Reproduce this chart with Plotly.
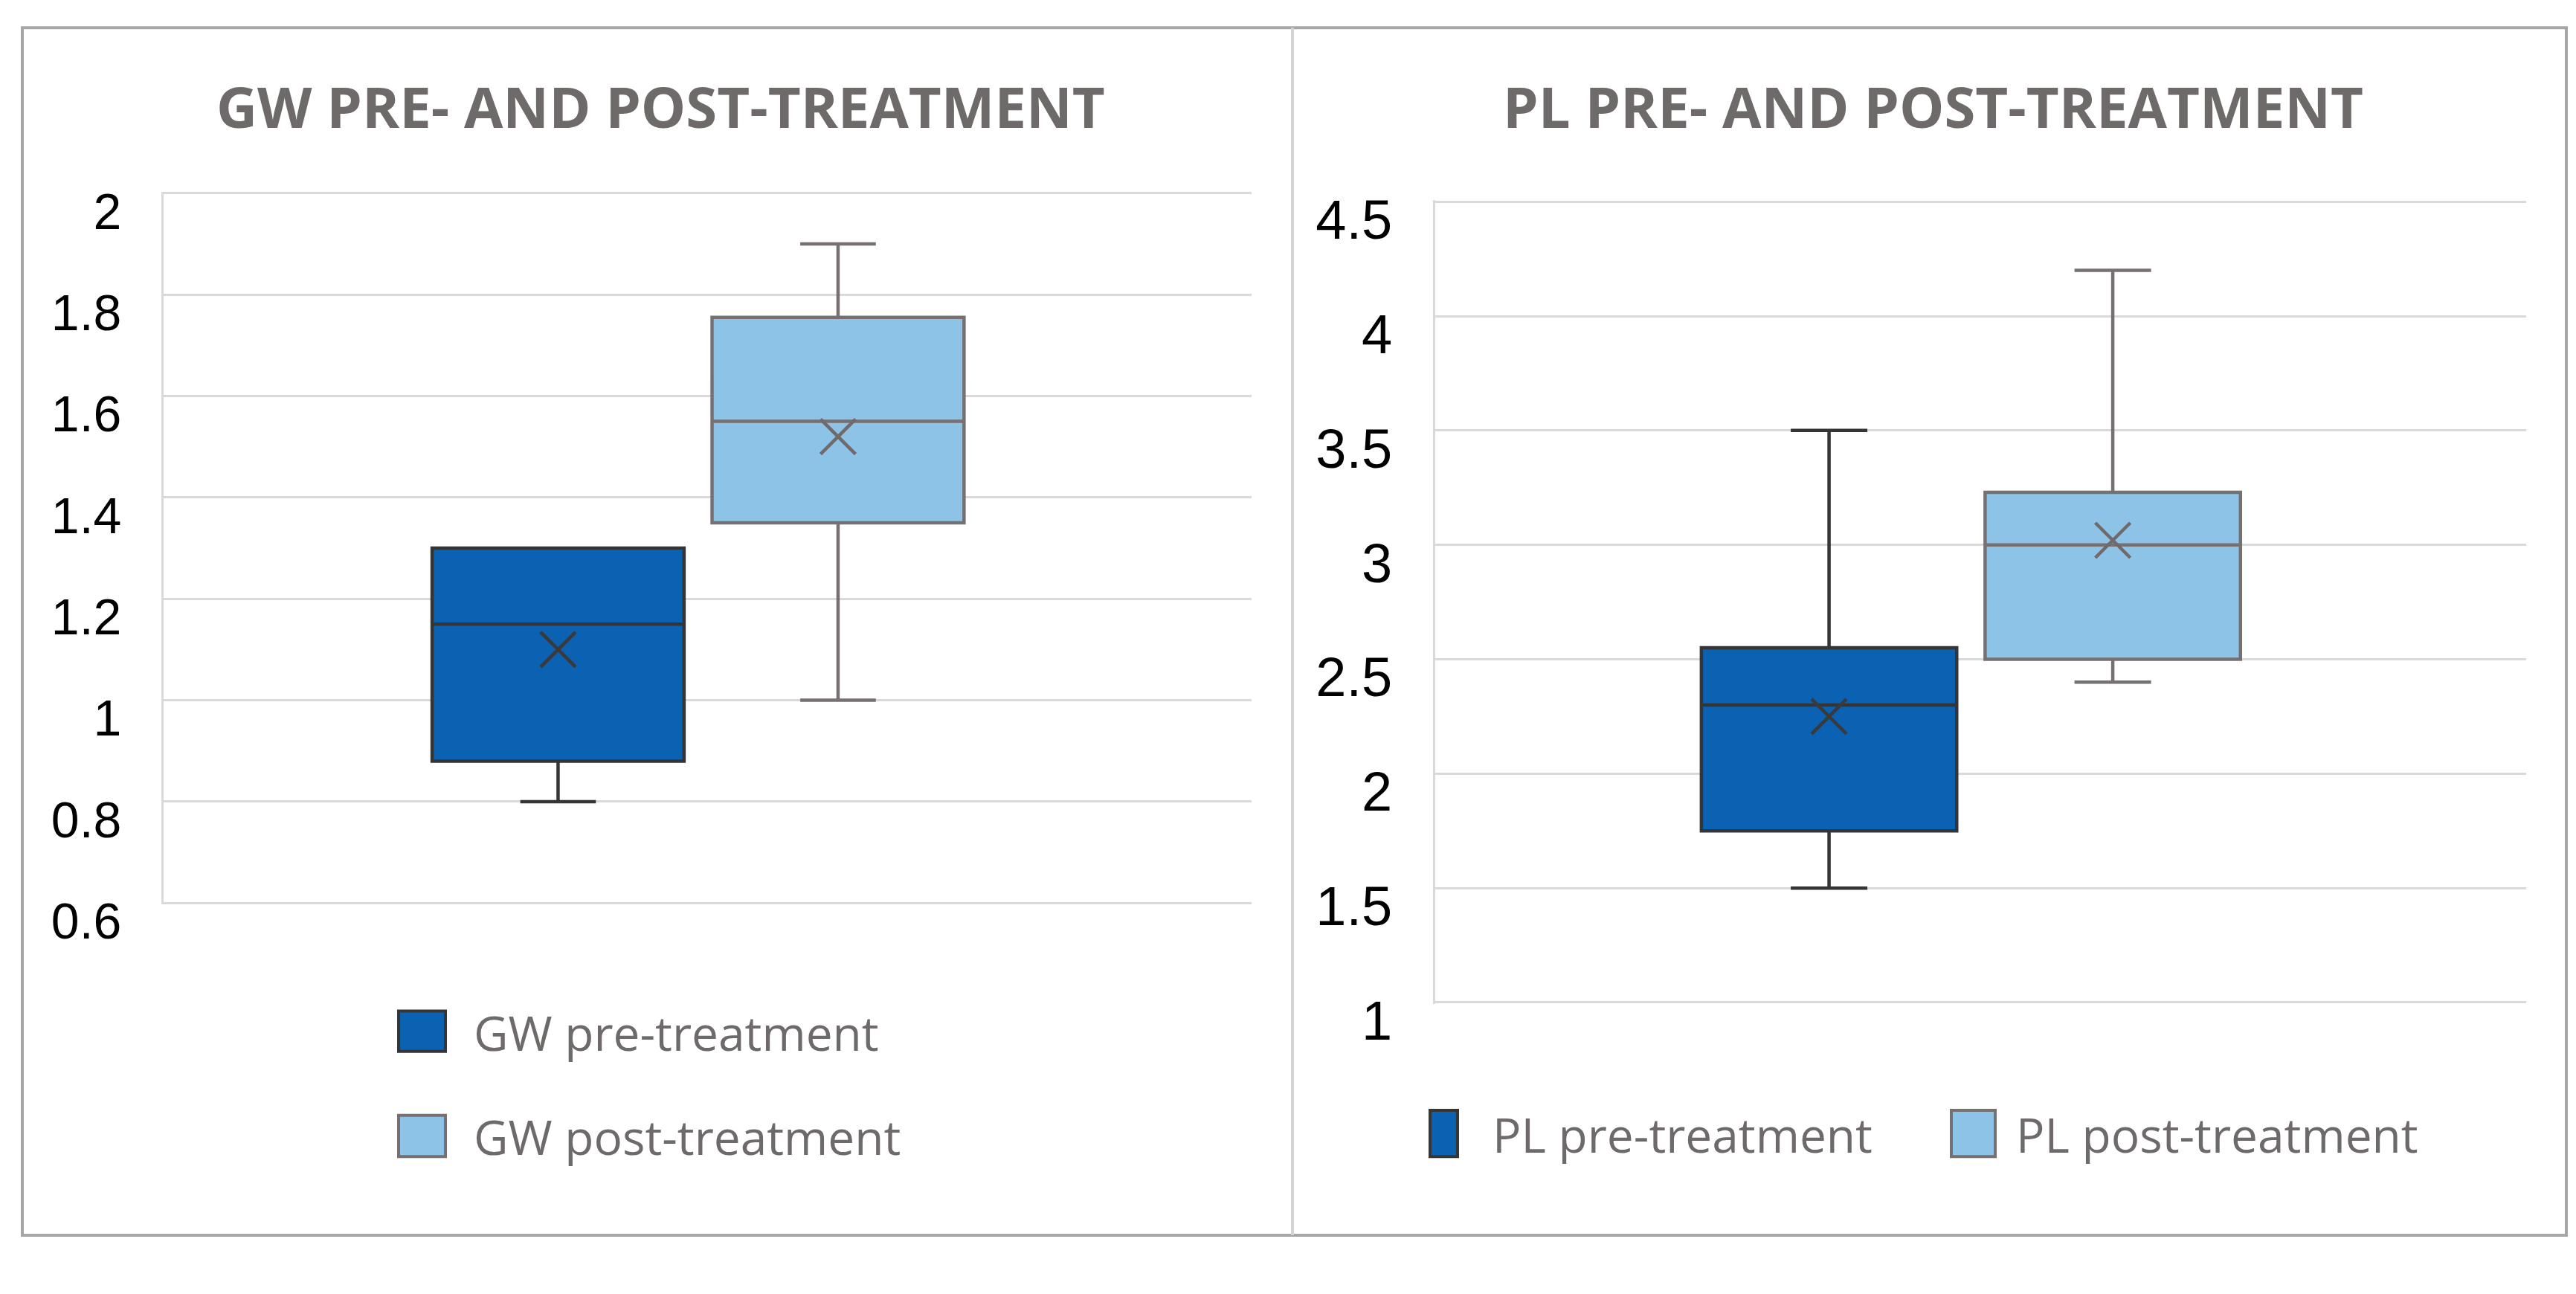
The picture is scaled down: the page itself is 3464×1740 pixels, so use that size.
import plotly.graph_objects as go

# ---------------- data ----------------
gw_categories = ["GW pre-treatment", "GW post-treatment"]
gw_lower = [0.80, 1.00]
gw_q1 = [0.88, 1.35]
gw_median = [1.15, 1.55]
gw_q3 = [1.30, 1.755]
gw_upper = [1.30, 1.90]
gw_mean = [1.10, 1.52]

pl_categories = ["PL pre-treatment", "PL post-treatment"]
pl_lower = [1.50, 2.40]
pl_q1 = [1.75, 2.50]
pl_median = [2.30, 3.00]
pl_q3 = [2.55, 3.23]
pl_upper = [3.50, 4.20]
pl_mean = [2.25, 3.02]

gw_ticks = [0.6, 0.8, 1, 1.2, 1.4, 1.6, 1.8, 2]
gw_ticktext = ["0.6", "0.8", "1", "1.2", "1.4", "1.6", "1.8", "2"]
pl_ticks = [1, 1.5, 2, 2.5, 3, 3.5, 4, 4.5]
pl_ticktext = ["1", "1.5", "2", "2.5", "3", "3.5", "4", "4.5"]

gw_title = "GW PRE- AND POST-TREATMENT"
pl_title = "PL PRE- AND POST-TREATMENT"

# ---------------- style ----------------
W, H = 3464, 1740
FILLS = ["#0B62B2", "#8EC3E8"]
LINES = ["#353535", "#767070"]
MEAN_COLORS = ["#3A3A3A", "#706A6A"]
GRID = "#D9D9D9"
TEXT_GRAY = "#6E6A6A"


def px(x):
    return x / W


def py(y):
    return 1 - y / H


fig = go.Figure()


def add_panel(cats, lower, q1, med, q3, upper, mean, xa, ya):
    for i, cat in enumerate(cats):
        fig.add_trace(go.Box(
            x=[cat], q1=[q1[i]], median=[med[i]], q3=[q3[i]],
            lowerfence=[lower[i]], upperfence=[upper[i]],
            name=cat, fillcolor=FILLS[i],
            line=dict(color=LINES[i], width=4.5),
            whiskerwidth=0.3, width=0.9, boxpoints=False,
            xaxis=xa, yaxis=ya, showlegend=False,
        ))
    fig.add_trace(go.Scatter(
        x=cats, y=mean, mode="markers",
        marker=dict(symbol="x-thin", size=47, color=MEAN_COLORS,
                    line=dict(width=4.5, color=MEAN_COLORS)),
        xaxis=xa, yaxis=ya, showlegend=False, hoverinfo="y",
    ))


add_panel(gw_categories, gw_lower, gw_q1, gw_median, gw_q3, gw_upper, gw_mean, "x", "y")
add_panel(pl_categories, pl_lower, pl_q1, pl_median, pl_q3, pl_upper, pl_mean, "x2", "y2")

xcommon = dict(type="category", showticklabels=False, showgrid=False,
               zeroline=False, showline=False, ticks="", fixedrange=True)
ycommon = dict(showgrid=True, gridcolor=GRID, gridwidth=3, zeroline=False,
               showline=True, linecolor=GRID, linewidth=3, ticks="",
               ticklabelstandoff=40, ticklabelshift=24, fixedrange=True)

fig.update_layout(
    width=W, height=H,
    margin=dict(l=0, r=0, t=0, b=0),
    paper_bgcolor="white", plot_bgcolor="white",
    showlegend=False,
    xaxis=dict(domain=[px(212), px(1675)], range=[-1.409, 2.477],
               categoryorder="array", categoryarray=gw_categories, **xcommon),
    yaxis=dict(domain=[py(1250.1), py(245.9)], range=[0.597, 2.003],
               tickvals=gw_ticks, ticktext=gw_ticktext,
               tickfont=dict(family="Liberation Sans, Arial", size=68, color="black"),
               **ycommon),
    xaxis2=dict(domain=[px(1922), px(3389)], range=[-1.388, 2.457], anchor="y2",
                categoryorder="array", categoryarray=pl_categories, **xcommon),
    yaxis2=dict(domain=[py(1389.9), py(258.1)], range=[0.994, 4.506], anchor="x2",
                tickvals=pl_ticks, ticktext=pl_ticktext,
                tickfont=dict(family="Liberation Sans, Arial", size=74, color="black"),
                **ycommon),
)

shapes = [
    # outer border
    dict(type="rect", xref="paper", yref="paper", x0=px(22), x1=px(3443), y0=py(1716), y1=py(15),
         line=dict(color="#A6A6A6", width=4), fillcolor="rgba(0,0,0,0)", layer="above"),
    # divider
    dict(type="line", xref="paper", yref="paper", x0=px(1730), x1=px(1730), y0=py(1716), y1=py(15),
         line=dict(color="#D4D4D4", width=4)),
]

annotations = [
    dict(text=gw_title, xref="paper", yref="paper", x=px(880), y=py(125),
         xanchor="center", yanchor="middle", showarrow=False,
         font=dict(family="Open Sans", size=76, color=TEXT_GRAY, weight=700)),
    dict(text=pl_title, xref="paper", yref="paper", x=px(2591), y=py(125),
         xanchor="center", yanchor="middle", showarrow=False,
         font=dict(family="Open Sans", size=76, color=TEXT_GRAY, weight=700)),
]

# custom legends (swatch rectangles + labels)
legend_items = [
    # (label, colour index, swatch x0, x1, y0, y1, text x, text y)
    (gw_categories[0], 0, 528, 591, 1400, 1457, 627, 1430),
    (gw_categories[1], 1, 528, 591, 1547, 1605, 627, 1577),
    (pl_categories[0], 0, 1915, 1952, 1540, 1605, 1997, 1574),
    (pl_categories[1], 1, 2616, 2675, 1540, 1605, 2701, 1574),
]
for label, ci, x0, x1, y0, y1, tx, ty in legend_items:
    shapes.append(dict(type="rect", xref="paper", yref="paper",
                       x0=px(x0), x1=px(x1), y0=py(y1), y1=py(y0),
                       fillcolor=FILLS[ci], line=dict(color=LINES[ci], width=4)))
    annotations.append(dict(text=label, xref="paper", yref="paper", x=px(tx), y=py(ty),
                            xanchor="left", yanchor="middle", showarrow=False,
                            font=dict(family="Open Sans", size=64, color=TEXT_GRAY)))

fig.update_layout(shapes=shapes, annotations=annotations)

fig.write_html("out.html")
